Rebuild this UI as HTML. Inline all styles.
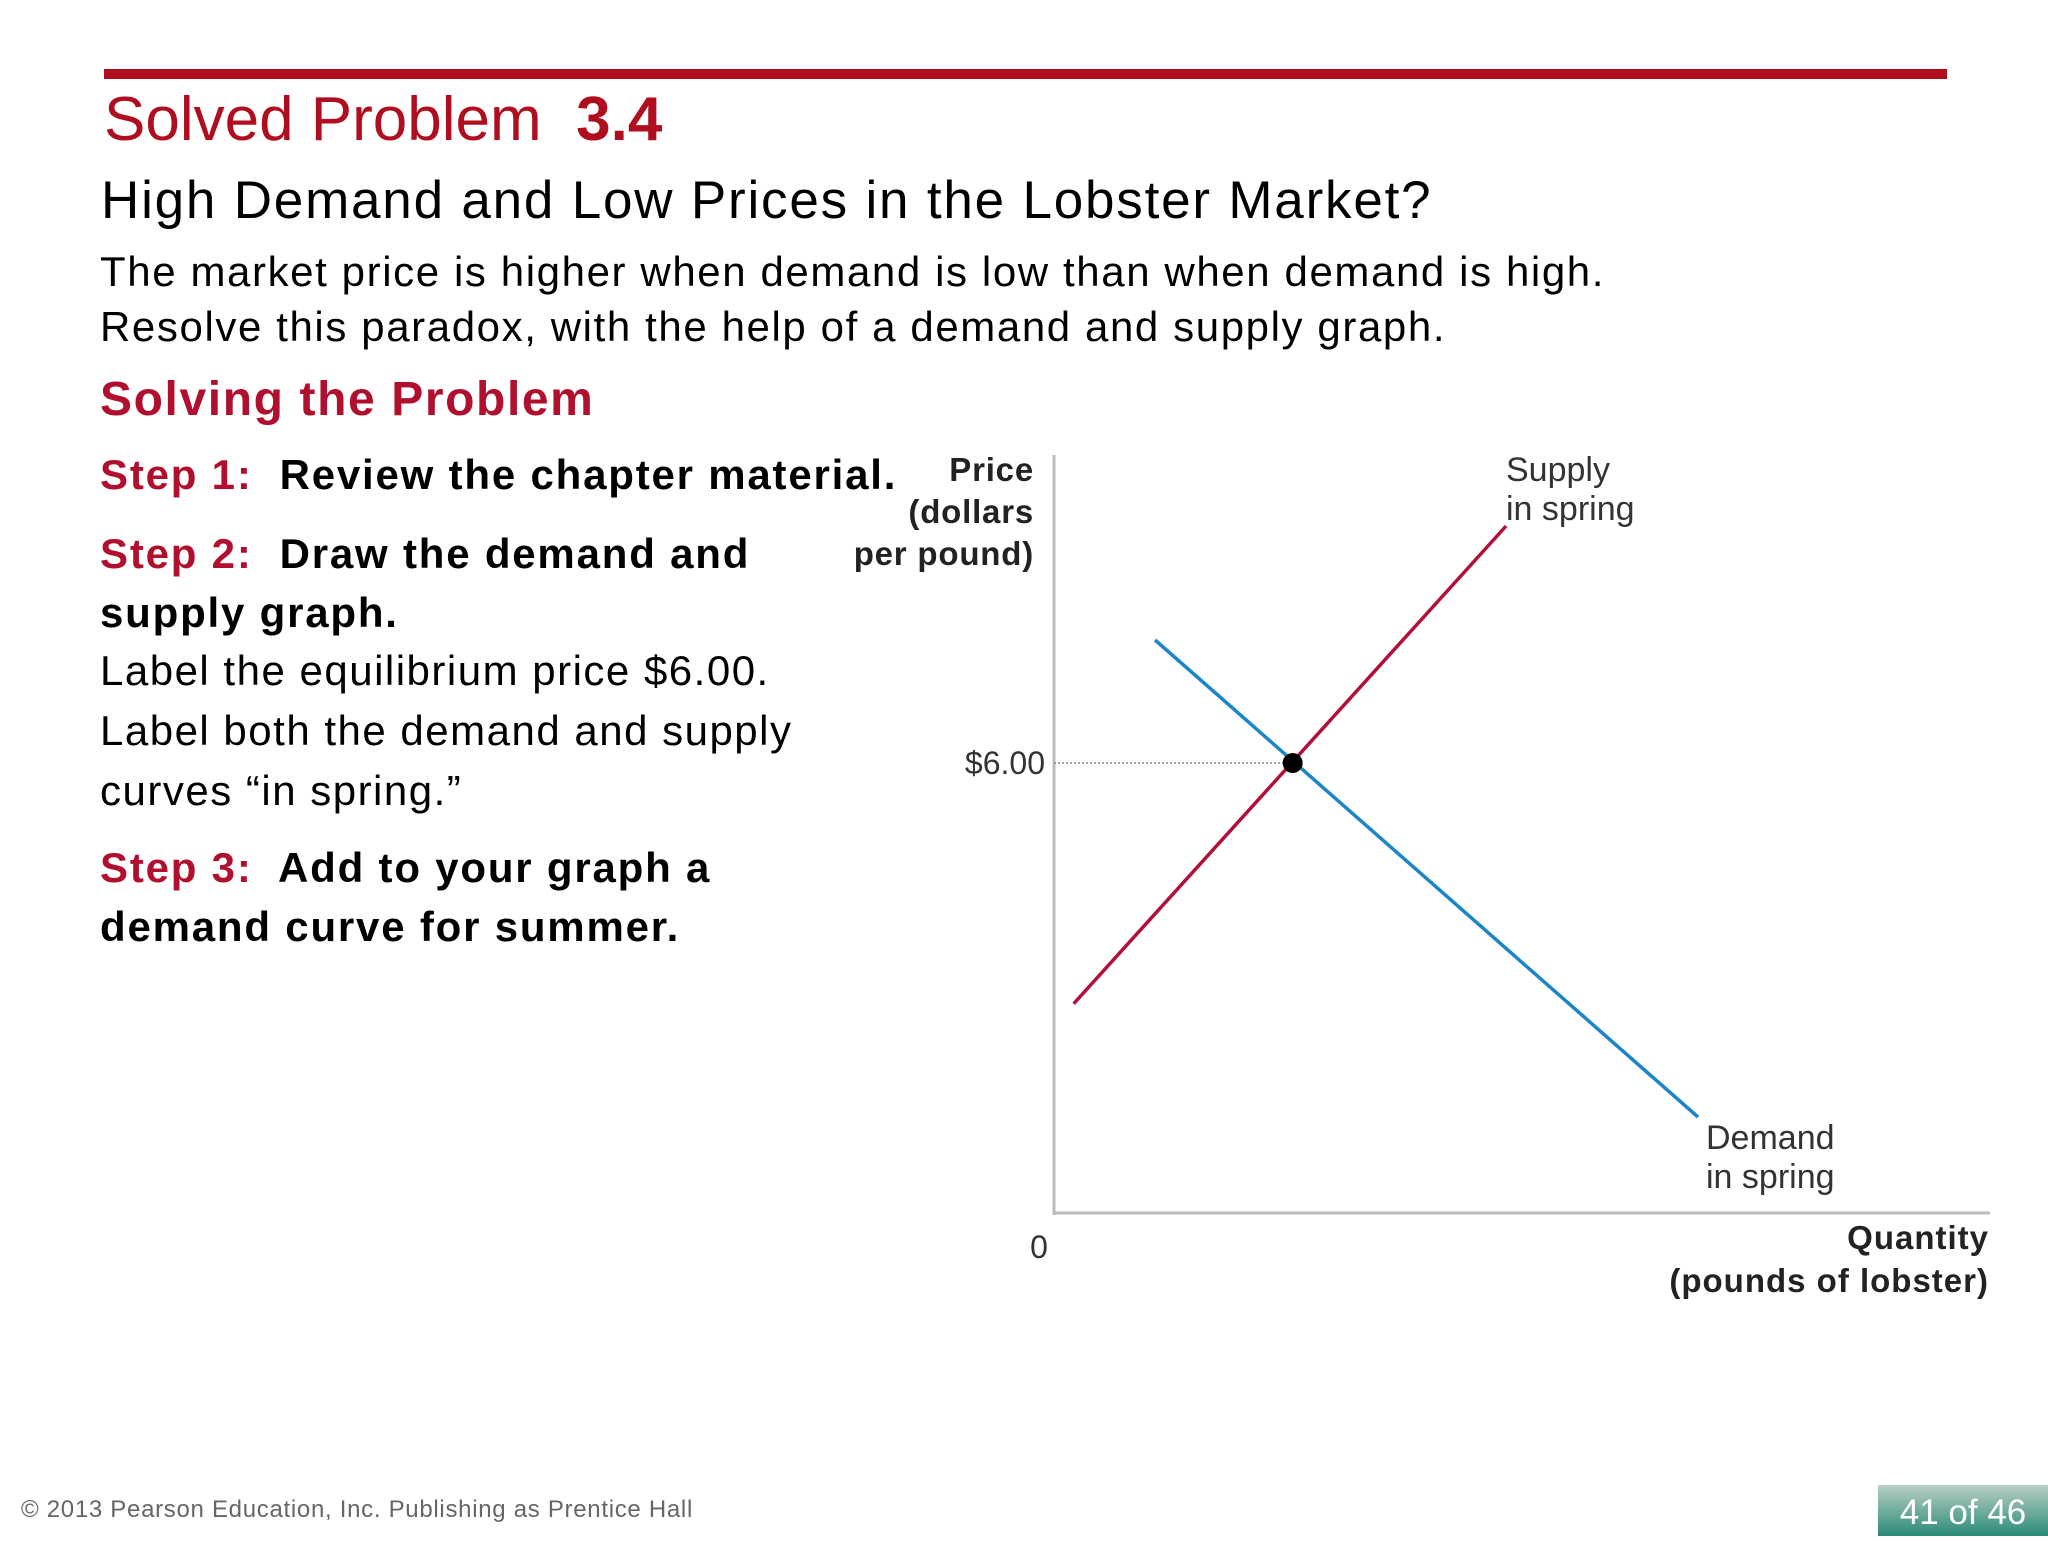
<!DOCTYPE html>
<html><head><meta charset="utf-8"><style>
html,body{margin:0;padding:0}
body{width:2048px;height:1536px;position:relative;background:#fff;font-family:"Liberation Sans",sans-serif;overflow:hidden}
.t{position:absolute;white-space:nowrap}
.red{color:#b0102e}
</style></head><body>
<div style="position:absolute;left:104px;top:69px;width:1843px;height:10px;background:#b00d1f"></div>
<div class="t" style="left:104px;top:84px;font-size:62px;color:#b00d1f">Solved Problem&nbsp; <b>3.4</b></div>
<div class="t" style="left:101px;top:170px;font-size:53px;color:#000;letter-spacing:1.8px">High Demand and Low Prices in the Lobster Market?</div>
<div class="t" style="left:100px;top:248px;font-size:42px;letter-spacing:1.6px">The market price is higher when demand is low than when demand is high.</div>
<div class="t" style="left:100px;top:303px;font-size:42px;letter-spacing:1.6px">Resolve this paradox, with the help of a demand and supply graph.</div>
<div class="t red" style="left:100px;top:372px;font-size:48px;font-weight:bold;letter-spacing:1.6px">Solving the Problem</div>
<div class="t" style="left:100px;top:451px;font-size:42px;font-weight:bold;letter-spacing:1.8px"><span class="red">Step 1:</span>&nbsp; Review the chapter material.</div>
<div class="t" style="left:100px;top:524px;font-size:42px;font-weight:bold;line-height:59px;letter-spacing:1.8px"><span class="red">Step 2:</span>&nbsp; Draw the demand and<br>supply graph.</div>
<div class="t" style="left:100px;top:641px;font-size:42px;line-height:60px;letter-spacing:1.5px">Label the equilibrium price $6.00.<br>Label both the demand and supply<br>curves “in spring.”</div>
<div class="t" style="left:100px;top:838px;font-size:42px;font-weight:bold;line-height:59px;letter-spacing:1.8px"><span class="red">Step 3:</span>&nbsp; Add to your graph a<br>demand curve for summer.</div>

<svg id="chart" width="2048" height="1536" style="position:absolute;left:0;top:0" font-family="Liberation Sans, sans-serif"></svg>

<div class="t" style="left:21px;top:1496px;font-size:24px;color:#666;letter-spacing:0.7px">© 2013 Pearson Education, Inc. Publishing as Prentice Hall</div>
<div style="position:absolute;left:1878px;top:1485px;width:170px;height:51px;background:linear-gradient(#b8d0c4,#2a8a78);color:#fff;font-size:35px;text-align:center;line-height:56px">41 of 46</div>

<script>
const supplyQ=[0.21,4.83];
const supplyP=[2.79,9.16];
const demandQ=[1.08,6.88];
const demandP=[7.64,1.28];
const eqQ=[2.55];
const eqP=[6];
const priceTicks=["$6.00"];
const x0=1054,y0=1213,xs=93.6,ys=75;
const X=q=>x0+q*xs, Y=p=>y0-p*ys;
const svg=document.getElementById('chart');
const NS='http://www.w3.org/2000/svg';
function mk(tag,attrs,txt){const e=document.createElementNS(NS,tag);for(const k in attrs)e.setAttribute(k,attrs[k]);if(txt!==undefined)e.textContent=txt;svg.appendChild(e);return e;}
let e;
e=mk('line',{x1:x0,y1:455,x2:x0,y2:y0+2,stroke:'#bbb','stroke-width':3});


e=mk('line',{x1:x0,y1:y0,x2:1990,y2:y0,stroke:'#bbb','stroke-width':3});


e=mk('line',{x1:x0,y1:Y(eqP[0]),x2:X(eqQ[0]),y2:Y(eqP[0]),stroke:'#888','stroke-width':1.5,'stroke-dasharray':'2,2'});


e=mk('line',{x1:X(supplyQ[0]),y1:Y(supplyP[0]),x2:X(supplyQ[1]),y2:Y(supplyP[1]),stroke:'#b0103a','stroke-width':3.5});


e=mk('line',{x1:X(demandQ[0]),y1:Y(demandP[0]),x2:X(demandQ[1]),y2:Y(demandP[1]),stroke:'#1a86c8','stroke-width':3.5});


e=mk('circle',{cx:X(eqQ[0]),cy:Y(eqP[0]),r:10,fill:'#000'});


e=mk('text',{x:1045,y:Y(eqP[0])+11,'font-size':32,'text-anchor':'end',fill:'#333'},priceTicks[0]);


e=mk('text',{x:1039,y:1258,'font-size':32,'text-anchor':'middle',fill:'#333'},'0');


const ylab=['Price','(dollars','per pound)'];
ylab.forEach((s,i)=>{const t=mk('text',{x:1034,y:481+i*42,'font-size':33,'font-weight':'bold','text-anchor':'end',fill:'#222','letter-spacing':0.8},s);

});
const xlab=['Quantity','(pounds of lobster)'];
xlab.forEach((s,i)=>{const t=mk('text',{x:1989,y:1249+i*43,'font-size':33,'font-weight':'bold','text-anchor':'end',fill:'#222','letter-spacing':1},s);

});
['Supply','in spring'].forEach((s,i)=>{const t=mk('text',{x:1506,y:481+i*39,'font-size':34,fill:'#333'},s);

});
['Demand','in spring'].forEach((s,i)=>{const t=mk('text',{x:1706,y:1149+i*39,'font-size':34,fill:'#333'},s);

});
</script>
</body></html>
